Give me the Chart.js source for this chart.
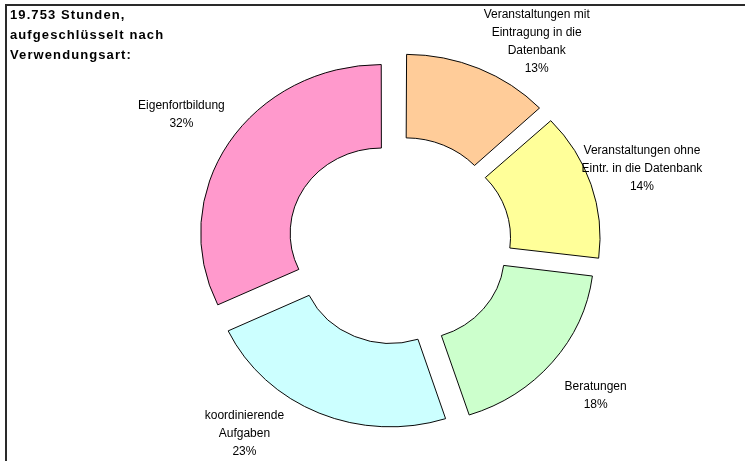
<!DOCTYPE html>
<html>
<head>
<meta charset="utf-8">
<script src="https://cdn.jsdelivr.net/npm/chart.js@4/dist/chart.umd.min.js"></script>
<style>
  html, body { margin: 0; padding: 0; background: #fff; }
  #wrap { width: 745px; height: 461px; }
</style>
</head>
<body>
<div id="wrap"><canvas id="usage-donut"></canvas></div>
<script>
// Stunden nach Verwendungsart (Anteile in %)
const categories = [
  ["Veranstaltungen mit", "Eintragung in die", "Datenbank"],
  ["Veranstaltungen ohne", "Eintr. in die Datenbank"],
  ["Beratungen"],
  ["koordinierende", "Aufgaben"],
  ["Eigenfortbildung"]
];
const shares = [13, 14, 18, 23, 32];
const sliceColors = ["#FFCC99", "#FFFF99", "#CCFFCC", "#CCFFFF", "#FF99CC"];
const titleLines = ["19.753 Stunden,", "aufgeschlüsselt nach", "Verwendungsart:"];

const squash = 167 / 179; // Excel-Ringdiagramm ist leicht oval

// Rahmen + Titel
const frame = {
  id: "frame",
  beforeDraw(chart) {
    const ctx = chart.ctx;
    ctx.save();
    ctx.fillStyle = "#fff";
    ctx.fillRect(0, 0, chart.width, chart.height);
    ctx.fillStyle = "#2a2a2a";
    ctx.fillRect(5, 4, 2, chart.height);
    ctx.fillRect(5, 4, chart.width, 2);
    ctx.fillStyle = "#000";
    ctx.font = "bold 13px 'Liberation Sans', Arial, sans-serif";
    ctx.letterSpacing = "1.1px";
    ctx.textBaseline = "alphabetic";
    titleLines.forEach((t, i) => ctx.fillText(t, 10, 19 + i * 20));
    ctx.restore();
  }
};

// oval zeichnen + Beschriftungen außen
const ringLabels = {
  id: "ringLabels",
  beforeDatasetsDraw(chart) {
    const a = chart.getDatasetMeta(0).data[0];
    const ctx = chart.ctx;
    ctx.save();
    ctx.translate(a.x, a.y);
    ctx.scale(1, squash);
    ctx.translate(-a.x, -a.y);
  },
  afterDatasetsDraw(chart) {
    const ctx = chart.ctx;
    ctx.restore();
    const total = shares.reduce((s, v) => s + v, 0);
    const lineH = 18;
    ctx.save();
    ctx.font = "12px 'Liberation Sans', Arial, sans-serif";
    ctx.fillStyle = "#000";
    ctx.textAlign = "center";
    ctx.textBaseline = "middle";
    chart.getDatasetMeta(0).data.forEach((el, i) => {
      const p = el.getProps(["x", "y", "startAngle", "endAngle", "outerRadius"], true);
      const off = el.options.offset / 4; // Chart.js verschiebt um offset/4
      const mid = (p.startAngle + p.endAngle) / 2;
      const cx = p.x + Math.cos(mid) * off;
      const cy = p.y + Math.sin(mid) * off * squash;
      const dist = p.outerRadius + 58;
      const lines = categories[i].concat([Math.round(shares[i] / total * 100) + "%"]);
      const h = lines.length * lineH;
      let lx = cx + Math.cos(mid) * dist;
      let ly = cy + Math.sin(mid) * dist * squash;
      const minY = 6 + h / 2, maxY = chart.height - h / 2;
      if (ly < minY || ly > maxY) {
        ly = Math.min(Math.max(ly, minY), maxY);
        const s = (ly - cy) / (dist * squash);
        if (Math.abs(s) <= 1) {
          lx = cx + Math.sign(Math.cos(mid)) * Math.sqrt(1 - s * s) * dist;
        }
      }
      lines.forEach((t, k) => ctx.fillText(t, lx, ly - h / 2 + lineH / 2 + k * lineH));
    });
    ctx.restore();
  }
};

new Chart(document.getElementById("usage-donut").getContext("2d"), {
  type: "doughnut",
  data: {
    labels: categories.map(c => c.join(" ")),
    datasets: [{
      data: shares,
      backgroundColor: sliceColors,
      borderColor: "#000",
      borderWidth: 1,
      offset: 78,
      hoverOffset: 0,
      clip: false
    }]
  },
  options: {
    responsive: true,
    maintainAspectRatio: false,
    animation: false,
    radius: 179,
    cutout: "50%",
    layout: { padding: { left: 51, top: 25, right: 0, bottom: 0 } },
    plugins: {
      legend: { display: false },
      tooltip: { enabled: false }
    }
  },
  plugins: [frame, ringLabels]
});
</script>
</body>
</html>
